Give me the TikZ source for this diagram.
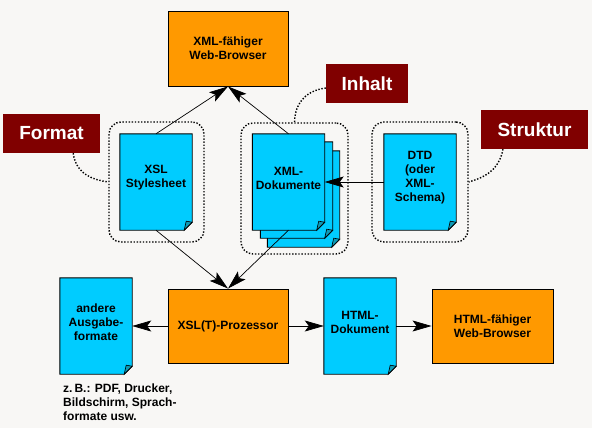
\documentclass[tikz,border=0pt]{standalone}
\usepackage{fontspec}
\setmainfont{Liberation Sans}
\usetikzlibrary{arrows.meta,calc}
\definecolor{bgc}{HTML}{F8F7F5}
\definecolor{docc}{HTML}{00CCFF}
\definecolor{orc}{HTML}{FF9900}
\definecolor{redc}{HTML}{800000}
\definecolor{foldc}{HTML}{0E9AB5}
\pgfdeclarelayer{bg}\pgfdeclarelayer{docs}\pgfsetlayers{bg,docs,main}
\newcommand{\docoutline}[3]{%
 \begin{pgfonlayer}{docs}
 \filldraw[docshape] ($(#1.north west)+(#2,#3)$) -- ($(#1.north east)+(#2,#3)$) -- ($(#1.south east)+(#2,#3-8)$) -- ($(#1.south east)+(#2-8,#3)$) -- ($(#1.south west)+(#2,#3)$) -- cycle;
 \filldraw[foldshape] ($(#1.south east)+(#2,#3-8)$) -- ($(#1.south east)+(#2-6,#3-9)$) -- ($(#1.south east)+(#2-8,#3)$) -- cycle;
 \end{pgfonlayer}}
\tikzset{
 docbox/.style={minimum width=72pt, minimum height=96pt, inner sep=0pt},
 txt/.style={font=\bfseries\fontsize{12}{14}\selectfont, align=center, inner sep=0pt},
 docshape/.style={fill=docc, draw=black, line width=0.9pt},
 foldshape/.style={fill=foldc, draw=black, line width=0.6pt},
 orbox/.style={txt, fill=orc, draw=black, line width=0.9pt, minimum width=120pt, minimum height=75pt},
 tag/.style={fill=redc, text=white, font=\bfseries\fontsize{19}{22}\selectfont, inner sep=0pt, minimum height=39pt},
 grp/.style={draw=black, line width=1.4pt, dash pattern=on 1.4pt off 1.7pt, rounded corners=12pt, inner sep=0pt},
 conn/.style={draw=black, line width=1.4pt, dash pattern=on 1.4pt off 1.7pt},
 arr/.style={draw=black, line width=0.7pt, -{Stealth[length=19pt,width=11pt,inset=4pt]}},
}
\begin{document}
\begin{tikzpicture}[x=1pt,y=-1pt]
\begin{pgfonlayer}{bg}
\fill[bgc] (0,0) rectangle (592,428);
\end{pgfonlayer}
\useasboundingbox (0,0) rectangle (592,428);

% top browser
\node[orbox] (xmlb) at (228,48.5) {XML-fähiger\\Web-Browser};

% documents top row
\node[docbox] (xsl) at (156,182) {};
\docoutline{xsl}{0}{0}
\node[txt] (xsl-t) at ([yshift=4pt]xsl.center) {XSL\\Stylesheet};

\node[docbox] (xmld) at (288.5,182) {};
\docoutline{xmld}{15}{17}
\docoutline{xmld}{8}{8}
\docoutline{xmld}{0}{0}
\node[txt] (xmld-t) at ([yshift=4pt]xmld.center) {XML-\\Dokumente};

\node[docbox] (dtd) at (420,182) {};
\docoutline{dtd}{0}{0}
\node[txt] (dtd-t) at ([yshift=4.5pt]dtd.center) {DTD\\(oder\\XML-\\Schema)};

% groups
\node[grp, minimum width=95pt, minimum height=120pt] (xslgrp) at (156.5,182) {};
\node[grp, minimum width=107pt, minimum height=131pt] (xmlgrp) at (294.5,188.5) {};
\node[grp, minimum width=96pt, minimum height=120pt] (dtdgrp) at (420,182) {};

% tags
\node[tag, minimum width=97pt] (fmt) at (51.5,133.5) {Format};
\node[tag, minimum width=82pt] (inh) at (367,83.5) {Inhalt};
\node[tag, minimum width=107pt] (str) at (534.5,129.5) {Struktur};

% bottom row
\node[orbox, minimum height=74pt] (proc) at (228,326) {XSL(T)-Prozessor};
\node[docbox] (andere) at (96,326) {};
\docoutline{andere}{0}{0}
\node[txt] (andere-t) at ([yshift=4pt]andere.center) {andere\\Ausgabe-\\formate};
\node[docbox] (htmld) at (360,326) {};
\docoutline{htmld}{0}{0}
\node[txt] (htmld-t) at ([yshift=4pt]htmld.center) {HTML-\\Dokument};
\node[orbox, minimum width=121pt, minimum height=74pt] (htmlb) at (492.5,326) {HTML-fähiger\\Web-Browser};

\node[txt, align=left, anchor=north west] (note) at (63,383.5) {z.\,B.: PDF, Drucker,\\Bildschirm, Sprach-\\formate usw.};

% arrows
\draw[arr] (xsl.north) -- (xmlb.south);
\draw[arr] (xmld.north) -- (xmlb.south);
\draw[arr] (xsl.south) -- (proc.north);
\draw[arr] (xmld.south) -- (proc.north);
\draw[arr] (dtd.west) -- (xmld.east);
\draw[arr] (proc.west) -- (andere.east);
\draw[arr] (proc.east) -- (htmld.west);
\draw[arr] (htmld.east) -- (htmlb.west);

% dotted connectors
\draw[conn] ([xshift=-27pt]fmt.south east) .. controls +(3,22) and +(-14,-2) .. (xslgrp.west);
\draw[conn] ([yshift=-4.5pt]inh.west) .. controls +(-24,3) and +(0,-14) .. (xmlgrp.north);
\draw[conn] ([xshift=-31.5pt]str.south) .. controls +(-4,22) and +(14,-4) .. (dtdgrp.east);
\end{tikzpicture}
\end{document}
